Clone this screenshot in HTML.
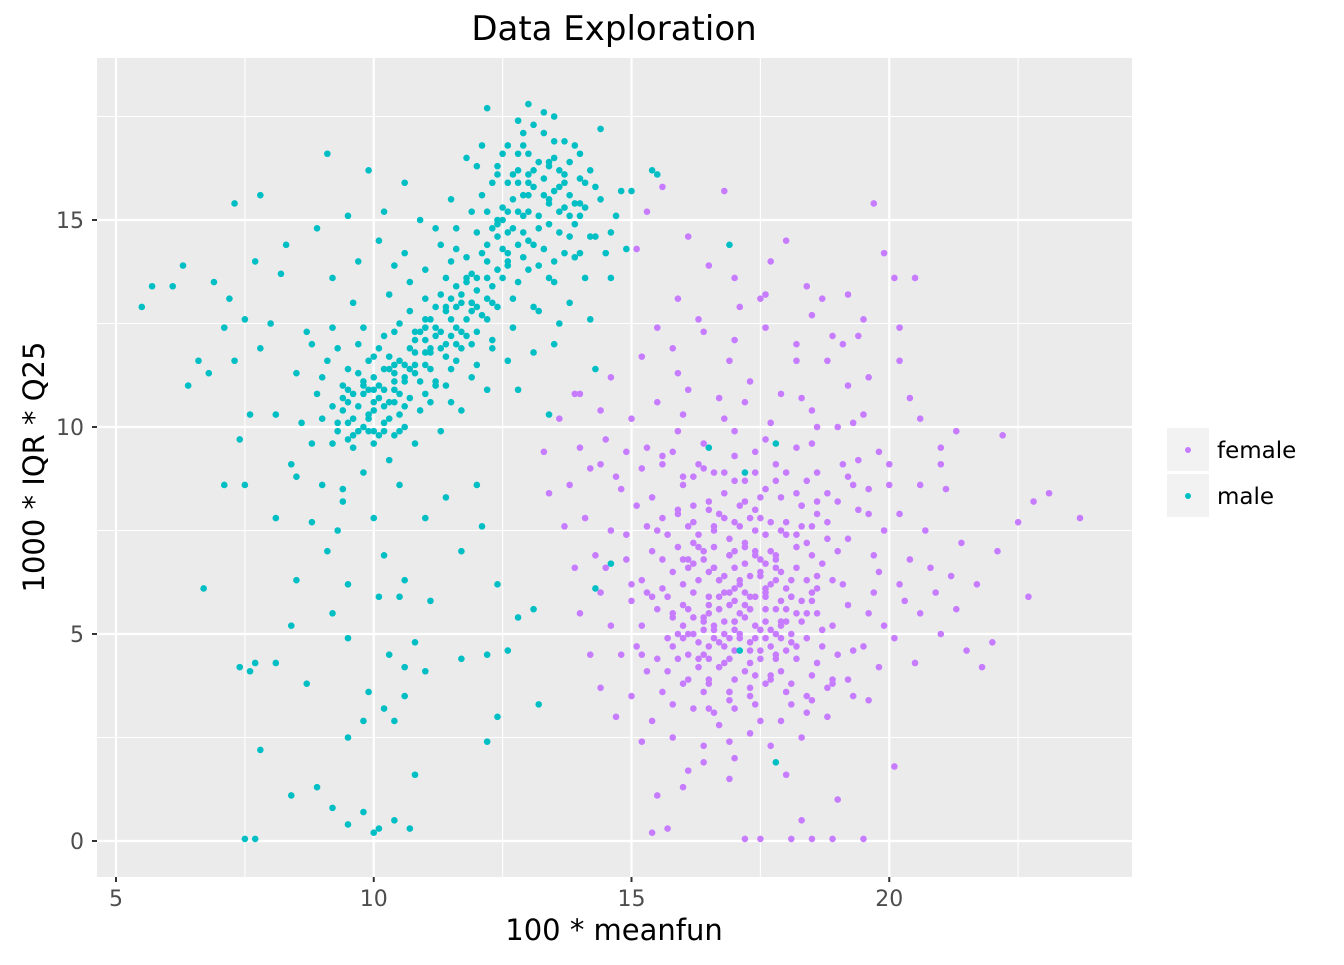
<!DOCTYPE html>
<html><head><meta charset="utf-8">
<style>
html,body{margin:0;padding:0;background:#fff;}
svg text{font-family:"DejaVu Sans","Liberation Sans",sans-serif;}
</style></head>
<body>
<svg id="chart" width="1344" height="960" xmlns="http://www.w3.org/2000/svg">
<rect x="0" y="0" width="1344" height="960" fill="#fff"/>
<rect x="97" y="58" width="1035" height="819" fill="#EBEBEB"/>
<g id="grid"></g>
<g id="pts"></g>
<g id="axes"></g>
<text x="614" y="40" text-anchor="middle" font-size="34" fill="#000">Data Exploration</text>
<text x="614" y="940" text-anchor="middle" font-size="29" fill="#000">100 * meanfun</text>
<text transform="translate(44,467) rotate(-90)" text-anchor="middle" font-size="29" fill="#000">1000 * IQR * Q25</text>
<g>
<rect x="1167" y="428" width="42" height="43" fill="#F2F2F2"/>
<circle cx="1188" cy="450" r="3" fill="#C77CFF"/>
<text x="1217" y="458" font-size="23" fill="#000">female</text>
<rect x="1167" y="474" width="42" height="43" fill="#F2F2F2"/>
<circle cx="1188" cy="496" r="3" fill="#00BFC4"/>
<text x="1217" y="504" font-size="23" fill="#000">male</text>
</g>
</svg>
<script>
const xTicks=[5,10,15,20];
const yTicks=[0,5,10,15];
const xMinor=[7.5,12.5,17.5,22.5];
const yMinor=[2.5,7.5,12.5,17.5];
const maleX=[9.2,9.4,9.5,9.6,9.7,9.8,9.9,10,10.1,10.2,10.3,10.4,10.5,10.6,10.7,10.8,10.9,11,11.1,11.2,11.3,11.4,11.5,11.6,11.7,11.8,11.9,12,12.1,12.2,12.3,12.4,12.5,12.6,12.7,12.8,12.9,13,13.1,13.2,13.3,13.4,13.5,13.6,13.7,13.8,13.9,14,14.1,14.2,
9.1,9.3,9.5,9.7,9.9,10,10.2,10.4,10.5,10.7,10.8,11,11.1,11.3,11.4,11.6,11.7,11.9,12,12.1,12.3,12.4,12.5,12.6,12.7,12.8,12.9,13,13.1,13.2,13.4,13.5,13.6,13.7,13.9,14.1,14.3,14.5,14.7,14.4,11.2,11.5,11.8,12.2,11.5,12,10.6,10.9,10.3,9.6,9.2,8.9,9,8.8,9.4,9.8,10.3,10.8,11.3,11.7,12.2,12.6,13.1,13.5,13.8,14.2,14.6,14.9,15,15.4,14.3,13.4,12.8,
5.5,5.7,6.1,6.3,6.4,6.6,6.8,6.9,7.1,7.2,7.3,7.3,7.5,7.4,7.6,7.7,7.8,7.8,8,8.1,8.2,8.3,8.4,8.5,8.6,8.7,8.8,8.9,9,9.1,9.2,9.3,9.5,9.7,9.9,10.1,10.2,10.4,10.6,8.1,8.5,7.1,7.5,8.8,9.1,9.4,10,10.5,11,11.4,11.7,12.1,12.4,12.8,13.1,12,6.7,8.5,9.5,10.2,10.6,11.1,11.7,12.2,12.6,13.2,
7.4,7.6,7.7,8.1,8.4,8.7,9.2,9.5,9.9,10.1,10.2,10.3,10.5,10.6,10.8,11,9.5,7.8,9.8,10.4,10.6,10.8,8.4,8.9,9.2,9.5,9.8,10,10.1,10.4,10.7,7.5,7.7,12.4,12.2,17.8,17.1,14.3,14.6,16.5,17.2,17.8,16.9,15.5,14.8,
10.0,10.2,10.6,11.0,11.4,11.8,12.2,12.6,13.0,13.4,9.8,10.4,11.2,11.6,12.4,12.9,13.3,13.7,11.0,11.9,
9.3,9.4,9.5,9.6,9.7,9.8,9.9,10.0,10.1,10.1,10.2,10.3,10.4,10.5,10.5,10.6,10.7,10.8,10.9,10.9,11.0,11.1,11.2,11.3,11.4,11.5,11.6,11.7,11.8,11.9,12.0,12.1,12.2,12.3,12.4,12.5,12.6,12.7,12.8,12.9,13.0,13.1,13.2,13.3,13.4,13.5,13.6,13.7,13.8,14.0,14.2,14.4,14.6,12.3,12.5,12.8,13.0,12.1,11.9,11.6,11.3,11.0,10.7,10.4,10.1,9.8,9.5,9.2,9.0,9.3,11.5,11.9,12.3,12.7,13.1,13.5,13.9,14.3,11.8,12.2,12.6,13.0,13.4,13.8,14.1,12.9,13.3,13.7,11.4,11.7,12.0,12.4,12.8,13.2,10.2,10.6,9.9,10.3,10.8,11.1,9.6,10.0,9.7,10.4,11.2,11.6,12.2,12.6,12.9,13.6,14.0,
9.4,9.6,9.8,10.0,10.2,10.4,10.6,10.8,11.0,11.2,11.4,11.6,11.8,12.0,12.2,12.4,12.6,12.8,13.0,13.2,13.4,13.6,13.8,14.0,9.5,9.9,10.3,10.7,11.1,11.5,11.9,12.3,12.7,13.1,13.5,13.9,10.0,10.5,11.0,11.5,12.0,12.5,13.0,13.5,14.0,12.8,13.3,12.4];
const maleY=[10.5,11,9.7,10.2,11.3,10.8,9.9,10.4,11,10.1,10.6,11.5,10.3,11.2,10.7,11.8,11.1,12.1,11.4,12.4,11.9,12.8,12.2,11.6,13,12.6,12,13.3,12.7,14,13.4,14.6,15,14.2,15.5,16.2,15.1,16.6,15.8,14.8,16,15.4,16.5,15.2,16.1,15.6,14.9,16,15.3,14.6,
11.6,9.9,10.6,12,11.6,9.6,12.2,9.8,12.5,13.5,12.3,13.8,10.6,13.2,11,14.3,12.3,13.7,11.5,15.6,12.1,16.1,13.6,16.8,13.1,14.4,17.1,13.8,17.3,12.8,13.6,17.5,12.5,14.2,16.8,13.6,15.8,14.2,15.1,17.2,14.8,15.5,16.5,17.7,14,16.3,14.2,15,13.2,13,12.4,10.8,11.2,12,8.5,8.9,9.2,9.6,9.9,10.4,10.9,11.6,11.8,12,13,12.6,13.6,14.3,15.7,16.2,11.4,10.3,10.9,
12.9,13.4,13.4,13.9,11,11.6,11.3,13.5,12.4,13.1,15.4,11.6,12.6,9.7,10.3,14,15.6,11.9,12.5,10.3,13.7,14.4,9.1,11.3,10.1,12.3,9.6,14.8,8.6,16.6,13.6,7.5,15.1,14,16.2,14.5,15.2,13.9,15.9,7.8,8.8,8.6,8.6,7.7,7,8.2,7.8,8.6,7.8,8.3,7,7.6,6.2,5.4,5.6,8.6,6.1,6.3,6.2,6.9,6.3,5.8,4.4,4.5,4.6,3.3,
4.2,4.1,4.3,4.3,5.2,3.8,5.5,4.9,3.6,5.9,3.2,4.5,5.9,4.2,4.8,4.1,2.5,2.2,2.9,2.9,3.5,1.6,1.1,1.3,0.8,0.4,0.7,0.2,0.3,0.5,0.3,0.05,0.05,3,2.4,1.9,4.6,6.1,6.7,9.5,8.9,9.6,14.4,16.1,15.7,
10.9,10.9,11.5,12.6,12.9,13.6,14.4,15.2,15.9,16.3,10.0,11.3,12.2,12.0,14.9,14.7,15.6,15.3,11.8,13.0,
10.1,10.7,11.4,9.5,10.5,11.1,10.3,11.2,9.8,10.7,11.4,10.2,10.9,9.9,11.6,10.5,11.9,11.3,10.4,12.3,11.5,12.6,11.1,12.3,11.7,13.1,12.4,11.9,13.5,12.8,12.3,14.2,13.1,14.8,13.8,15.3,14.7,16.1,15.2,14.1,15.6,16.2,15.1,14.3,16.4,15.7,14.7,15.9,16.4,15.4,16.2,15.5,14.7,15.9,16.6,17.4,17.8,16.8,15.2,14.8,14.4,13.1,12.8,12.3,11.9,12.4,10.1,9.6,10.2,11.9,10.6,11.2,11.9,12.4,12.9,13.5,14.1,14.6,14.1,15.2,15.9,14.5,14.9,15.1,15.9,16.8,17.1,16.9,13.6,13.2,14.7,12.9,13.5,13.9,10.5,11.1,10.9,11.7,12.1,11.8,10.8,9.9,9.9,10.6,12.9,13.4,13.6,14.0,15.6,16.2,16.6,
10.4,9.8,11.0,10.6,9.9,11.1,10.0,11.5,12.4,11.0,12.0,12.9,12.2,13.6,12.6,15.0,13.9,15.9,15.2,16.4,15.5,15.8,14.6,15.1,10.9,10.2,11.4,11.4,11.9,12.6,13.0,13.0,14.8,14.4,16.9,15.4,11.7,10.8,10.8,11.4,12.9,14.3,16.1,14.0,14.2,16.6,17.6,16.3];
const femaleX=[16.2,16.5,16.8,17,17.2,17.4,17.6,17.8,16.4,16.6,16.9,17.1,17.3,17.5,17.7,17.9,18.1,18.3,16,15.8,16.1,16.3,16.7,17,17.3,17.6,17.9,18.2,18.5,18.7,18.4,18,17.5,17,16.5,16,15.6,15.4,15.2,15.5,15.7,15.9,16.4,16.9,17.4,18,18.6,18.9,19.1,19.2,19,18.6,18.2,17.6,17,16.4,15.8,15.2,14.8,14.6,14.9,15,15.1,15.3,15.6,16.2,16.7,17.3,17.9,18.4,18.9,19.3,19.6,19.8,19.9,19.6,19.4,19,18.5,17.9,17.3,16.7,16.1,15.5,15,14.5,14.2,14.1,14.3,14.4,14.6,14.8,15,15.4,15.8,16.4,17,17.7,18.3,18.8,19.3,19.8,20.1,20.3,20.4,20.2,20,19.8,19.5,19.2,18.8,18.2,17.6,17,16.4,15.8,15.2,14.6,14,13.6,13.3,13.4,13.7,13.9,14,14.2,14.4,14.7,15.2,15.5,15.7,15.4,16,16.4,16.9,17.2,17.5,18.1,18.3,18.5,18.9,19,19.5,20.1,
20.6,20.8,21,21.2,21.4,21.5,21.7,21.8,22,21.1,21.3,22.1,22.2,22.5,22.8,23.1,22.7,23.7,21,20.6,20.4,20.2,20.1,20.5,19.7,19.9,19.5,19.2,18.9,18.4,18,17.6,17.1,16.5,16.1,15.6,15.3,15.1,15.9,16.8,17.5,18.2,19.1,19.6,20.2,20.6,21,
16.6,16.9,17.2,17.1,16.7,17.4,16.8,17.6,16.3,17.8,18.1,16.1,17.3,16.9,17.6,18.2,15.9,16.6,17.9,18.4,15.7,18.6,16.2,17.2,15.4,18.8,15.6,17.8,16.3,17.4,19.4,14.9,19.7,15.2,18.7,16.5,17.8,14.4,13.9,15.9,16.9,18.6,
16.4,16.7,17.0,17.3,17.6,16.5,16.8,17.1,17.4,17.7,16.0,16.3,16.6,16.9,17.2,17.5,17.8,18.1,15.8,16.1,16.4,16.7,17.0,17.3,17.6,17.9,18.2,18.5,15.5,15.9,16.2,16.5,16.8,17.1,17.4,17.7,18.0,18.3,18.6,15.6,16.0,16.4,16.8,17.2,17.6,18.0,18.4,18.8,19.2,15.3,15.7,16.1,16.5,16.9,17.3,17.7,18.1,18.5,18.9,
16.0,16.2,16.4,16.5,16.6,16.7,16.8,16.9,17.0,17.0,17.1,17.2,17.3,17.4,17.5,17.6,17.7,17.8,17.9,18.0,18.1,18.2,18.3,18.4,18.5,18.6,18.7,18.8,16.1,16.3,16.5,16.7,16.9,17.1,17.3,17.5,17.7,17.9,18.1,18.3,15.8,15.6,15.4,15.9,16.0,16.2,16.6,17.0,17.4,17.8,18.2,18.6,19.0,19.2,19.0,18.8,16.8,17.2,16.4,17.6,16.6,17.8,15.7,18.9,16.3,17.4,16.1,17.9,15.5,18.5,16.9,17.2,16.5,17.0,18.3,15.9,16.8,17.5,16.2,18.0,17.3,16.7,19.3,15.1,14.9,15.3,15.9,16.8,17.7,18.5,19.1,19.6,19.7,19.5,19.2,18.4,17.5,16.6,15.8,15.2,15.0,14.7,14.4,14.0,13.8,14.5,15.3,16.0,17.2,18.3,19.3,20.0,20.2,19.9,19.6,16.9,16.1,18.0,20.5,20.9,21.3,20.7,19.4,18.7,17.7,16.3,17.0,18.5,15.5,
16.0,16.3,16.6,16.9,17.2,17.5,17.8,18.1,18.4,16.1,16.4,16.7,17.0,17.3,17.6,17.9,18.2,15.8,16.2,16.6,17.0,17.4,17.8,18.2,18.6,15.6,16.0,16.5,17.0,17.5,18.0,18.5,16.8,17.1,17.4,16.5,17.7,16.2,18.0,17.0];
const femaleY=[6,5.5,6.4,5.8,6.7,5.2,6.1,5.6,7,6.6,7.3,5,7.8,4.6,7,4.9,6.3,5.3,5.2,6.5,7.6,4.8,4.2,3.9,4.3,3.8,4.1,4.7,5.8,6.7,7.2,7.7,8.3,8.7,8.2,8.6,7.8,7,6.3,5.6,4.9,4.4,3.6,3.4,3.3,3.6,4.3,5.2,6.2,7.3,8.2,8.9,9.5,9.7,9.9,9.6,9.4,9,8.5,7.5,6.8,5.8,4.7,4.1,3.6,3.2,2.8,2.6,2.9,3.1,3.9,4.6,5.5,6.5,7.5,8.5,9.2,10,10.4,10.8,11.1,10.7,10.9,10.6,10.2,9.7,9,7.8,6.9,6,5.2,4.5,3.5,2.9,2.5,2.3,2,2.3,2.5,3,3.5,4.2,4.9,5.8,6.8,7.9,8.6,9.4,10.3,11,11.6,12,12.4,12.1,12.3,11.9,11.7,11.2,10.8,10.2,9.4,8.4,7.6,6.6,5.5,4.5,3.7,3,2.4,1.1,0.3,0.2,1.3,1.9,2.4,0.05,0.05,0.05,0.5,0.05,0.05,1,0.05,1.8,
5.5,6.6,5,6.4,7.2,4.6,6.2,4.2,4.8,8.5,9.9,7,9.8,7.7,8.2,8.4,5.9,7.8,9.1,8.6,10.7,11.6,13.6,13.6,15.4,14.2,12.6,13.2,12.2,13.4,14.5,13.2,12.9,13.9,14.6,15.8,15.2,14.3,13.1,15.7,13.1,11.6,12,11.2,12.4,10.2,9.5,
5.1,5.7,5.4,6.2,5.9,6.9,4.7,5.3,6.3,6.6,5,5.6,4.8,6.9,7.4,7.1,7.1,7.5,8.3,6.3,5.9,5.5,8.1,8.2,8.3,7.7,9.1,9.1,9.1,9.4,8,9.4,6.9,5.2,4.7,4.4,4.5,10.4,10.8,11.3,11.6,10,
4.5,4.8,5.1,4.6,4.9,5.7,6.0,6.3,5.9,6.2,6.8,7.1,6.6,6.9,7.2,6.5,6.8,5.9,5.4,5.0,5.3,5.6,5.3,5.6,5.9,5.2,5.5,6.0,7.5,7.9,7.7,8.0,7.8,7.6,8.0,7.7,7.4,8.1,7.9,9.3,8.8,9.0,8.9,8.7,8.5,8.9,8.7,8.4,8.8,6.0,4.1,3.9,3.8,3.6,3.7,4.0,3.3,3.4,3.8,
6.2,5.4,6.8,5.9,4.9,6.3,5.3,6.0,4.6,6.6,5.5,7.1,5.9,4.9,6.4,5.6,4.7,6.9,5.3,6.1,4.8,6.6,5.8,4.9,6.9,6.1,5.1,7.3,4.5,7.4,3.9,7.9,3.6,8.1,3.5,7.8,3.9,7.5,3.8,8.1,5.5,6.8,5.9,8.0,3.8,8.8,8.9,9.3,8.9,8.7,8.4,8.2,7.0,5.7,4.5,3.7,5.0,6.0,5.1,6.7,7.1,4.4,7.4,6.3,4.2,7.5,6.8,6.5,4.4,4.0,4.4,4.1,6.5,7.7,7.6,5.0,8.4,5.1,7.2,5.6,6.4,5.6,8.6,8.1,7.4,9.5,9.9,10.2,10.1,9.6,9.1,7.9,6.0,4.7,3.9,3.5,2.9,3.1,3.3,4.5,6.2,8.8,9.1,9.5,8.6,6.6,7.6,10.3,10.6,10.7,10.1,9.1,6.2,5.2,3.4,1.5,1.7,1.6,4.3,6.0,5.6,7.5,12.2,13.1,14.0,12.6,13.6,12.7,12.4,
5.7,4.4,5.2,4.9,5.7,4.4,5.0,5.9,5.5,6.6,5.4,6.3,5.3,5.6,6.0,5.8,7.4,4.7,6.7,7.6,6.1,7.0,6.3,4.4,6.4,6.1,4.9,4.7,3.2,6.8,4.6,7.6,4.3,4.9,4.0,3.2,5.1,5.0,5.3,7.0];
const X0=5,XP0=116,XS=51.55;
const Y0=0,YP0=841,YS=41.4;
function sx(v){return XP0+(v-X0)*XS;}
function sy(v){return YP0-(v-Y0)*YS;}
const NS='http://www.w3.org/2000/svg';
const grid=document.getElementById('grid');
const axes=document.getElementById('axes');
const pts=document.getElementById('pts');
function line(parent,x1,y1,x2,y2,stroke,w){const l=document.createElementNS(NS,'line');l.setAttribute('x1',x1);l.setAttribute('y1',y1);l.setAttribute('x2',x2);l.setAttribute('y2',y2);l.setAttribute('stroke',stroke);l.setAttribute('stroke-width',w);parent.appendChild(l);return l;}
xMinor.forEach(v=>{const l=line(grid,sx(v),58,sx(v),877,'#fff',1.1);

});
yMinor.forEach(v=>{const l=line(grid,97,sy(v),1132,sy(v),'#fff',1.1);

});
xTicks.forEach(v=>{const l=line(grid,sx(v),58,sx(v),877,'#fff',2.2);


const t=line(axes,sx(v),877,sx(v),882,'#333',2);


const tx=document.createElementNS(NS,'text');tx.setAttribute('x',sx(v));tx.setAttribute('y',906);tx.setAttribute('text-anchor','middle');tx.setAttribute('font-size','22');tx.setAttribute('fill','#4D4D4D');tx.textContent=v;


axes.appendChild(tx);});
yTicks.forEach(v=>{const l=line(grid,97,sy(v),1132,sy(v),'#fff',2.2);


const t=line(axes,92,sy(v),97,sy(v),'#333',2);


const tx=document.createElementNS(NS,'text');tx.setAttribute('x',84);tx.setAttribute('y',sy(v)+8);tx.setAttribute('text-anchor','end');tx.setAttribute('font-size','22');tx.setAttribute('fill','#4D4D4D');tx.textContent=v;


axes.appendChild(tx);});
function drawSeries(xs,ys,color,name){for(let i=0;i<xs.length&&i<ys.length;i++){const c=document.createElementNS(NS,'circle');c.setAttribute('cx',sx(xs[i]));c.setAttribute('cy',sy(ys[i]));c.setAttribute('r',3.3);c.setAttribute('fill',color);


pts.appendChild(c);}}
drawSeries(femaleX,femaleY,'#C77CFF','point-female');
drawSeries(maleX,maleY,'#00BFC4','point-male');
</script>
</body></html>
